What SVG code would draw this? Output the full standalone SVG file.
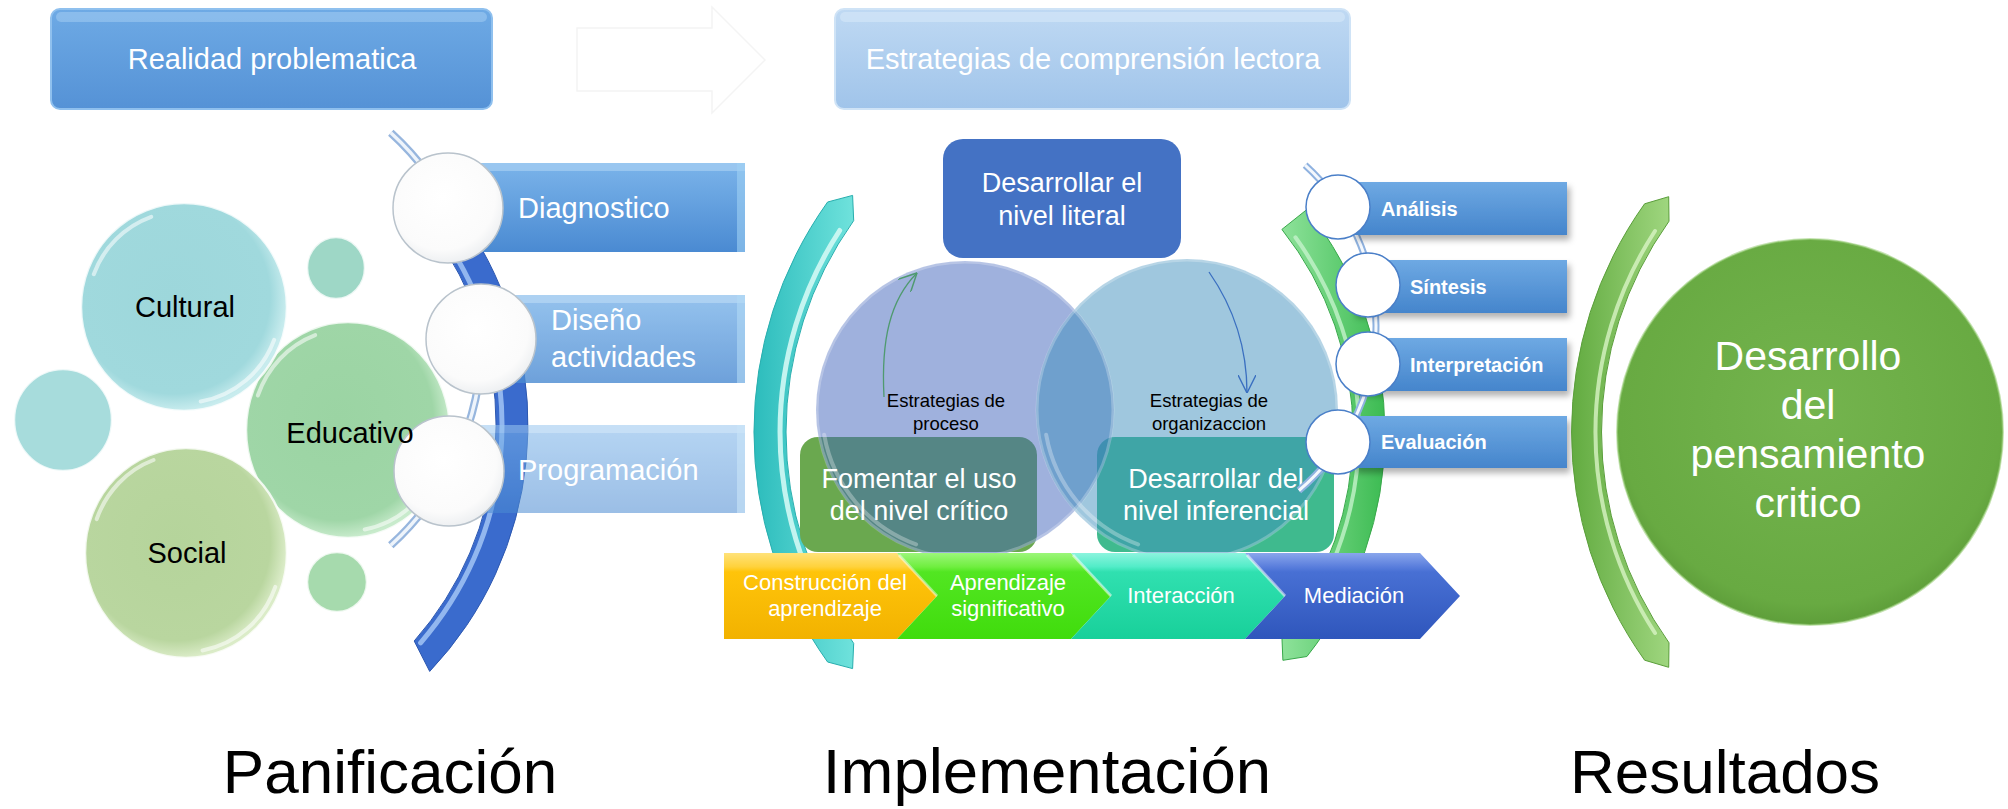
<svg xmlns="http://www.w3.org/2000/svg" width="2008" height="809" viewBox="0 0 2008 809">
<defs>
<style>
.t{font-family:"Liberation Sans",Arial,sans-serif}
.wt{fill:#fff}
.bk{fill:#000}
.c{text-anchor:middle}
.b{font-weight:bold}
.wcirc{fill:url(#gWhite);stroke:#b9c3cc;stroke-width:1.5}
.lcirc{fill:#fff;stroke:#4a7fc8;stroke-width:1.5}
.bub{stroke:#fff;stroke-opacity:.8;stroke-width:2.5}
.hl{fill:none;stroke-linecap:round}
.gl{fill:none;stroke:#fff;stroke-linecap:round;stroke-width:4;opacity:.55}
</style>
<linearGradient id="gTop" x1="0" y1="0" x2="0" y2="1"><stop offset="0" stop-color="#6eaae5"/><stop offset="1" stop-color="#5592d6"/></linearGradient>
<linearGradient id="gLight" x1="0" y1="0" x2="0" y2="1"><stop offset="0" stop-color="#bfd9f3"/><stop offset="1" stop-color="#a0c4ea"/></linearGradient>
<linearGradient id="gPlan" x1="0" y1="0" x2="0" y2="1"><stop offset="0" stop-color="#7bb4ea"/><stop offset="1" stop-color="#4a8ad2"/></linearGradient>
<linearGradient id="gList" x1="0" y1="0" x2="0" y2="1"><stop offset="0" stop-color="#6ea9e3"/><stop offset="1" stop-color="#4585cc"/></linearGradient>
<linearGradient id="gTeal" x1="0" y1="0" x2="1" y2="0"><stop offset="0" stop-color="#2cbcbc"/><stop offset="1" stop-color="#6fe2dc"/></linearGradient>
<linearGradient id="gGreen" x1="0" y1="0" x2="1" y2="0"><stop offset="0" stop-color="#8ee29a"/><stop offset="1" stop-color="#3cbb52"/></linearGradient>
<linearGradient id="gRes" x1="0" y1="0" x2="1" y2="0"><stop offset="0" stop-color="#62ab40"/><stop offset="1" stop-color="#9fd67f"/></linearGradient>
<linearGradient id="gYel" x1="0" y1="0" x2="0" y2="1"><stop offset="0" stop-color="#ffe27a"/><stop offset=".16" stop-color="#ffd23c"/><stop offset=".22" stop-color="#ffc40a"/><stop offset="1" stop-color="#f2b200"/></linearGradient>
<linearGradient id="gGrn" x1="0" y1="0" x2="0" y2="1"><stop offset="0" stop-color="#9cf67a"/><stop offset=".16" stop-color="#70ee40"/><stop offset=".22" stop-color="#52e622"/><stop offset="1" stop-color="#40dc0c"/></linearGradient>
<linearGradient id="gTql" x1="0" y1="0" x2="0" y2="1"><stop offset="0" stop-color="#8cf4de"/><stop offset=".16" stop-color="#52ecc8"/><stop offset=".22" stop-color="#30e0b0"/><stop offset="1" stop-color="#18d09a"/></linearGradient>
<linearGradient id="gBlu" x1="0" y1="0" x2="0" y2="1"><stop offset="0" stop-color="#8aa6ec"/><stop offset=".16" stop-color="#5a7edc"/><stop offset=".22" stop-color="#4870d4"/><stop offset="1" stop-color="#2f56bc"/></linearGradient>
<radialGradient id="gWhite" cx=".45" cy=".4" r=".6"><stop offset="0" stop-color="#ffffff"/><stop offset=".8" stop-color="#fbfbfb"/><stop offset="1" stop-color="#eef0f2"/></radialGradient>
<radialGradient id="gBig" cx=".5" cy=".45" r=".55"><stop offset="0" stop-color="#74b44e"/><stop offset=".9" stop-color="#68aa42"/><stop offset="1" stop-color="#5e9e3a"/></radialGradient>
<radialGradient id="gCul" cx=".45" cy=".45" r=".55"><stop offset="0" stop-color="#9dd7db"/><stop offset=".85" stop-color="#a0d9dd"/><stop offset="1" stop-color="#c8ecee"/></radialGradient>
<radialGradient id="gEdu" cx=".45" cy=".45" r=".55"><stop offset="0" stop-color="#9bd4a3"/><stop offset=".85" stop-color="#9fd6a7"/><stop offset="1" stop-color="#c8ebcc"/></radialGradient>
<radialGradient id="gSoc" cx=".45" cy=".45" r=".55"><stop offset="0" stop-color="#b5d49b"/><stop offset=".85" stop-color="#b9d69f"/><stop offset="1" stop-color="#dbecc8"/></radialGradient>
<filter id="sh" x="-10%" y="-20%" width="130%" height="160%"><feDropShadow dx="3" dy="5" stdDeviation="3" flood-color="#000" flood-opacity=".3"/></filter>
<marker id="arG" viewBox="0 0 10 10" refX="10" refY="5" markerWidth="18" markerHeight="18" markerUnits="userSpaceOnUse" orient="auto"><path d="M0,0 L10,5 L0,10" fill="none" stroke="#4f9a6f" stroke-width=".8"/></marker>
<marker id="arB" viewBox="0 0 10 10" refX="10" refY="5" markerWidth="18" markerHeight="18" markerUnits="userSpaceOnUse" orient="auto"><path d="M0,0 L10,5 L0,10" fill="none" stroke="#3a6fc0" stroke-width=".8"/></marker>
</defs>
<rect x="0" y="0" width="2008" height="809" fill="#fff"/>

<!-- faint arrow -->
<g id="top-arrow">
<polygon points="577,28 712,28 712,7 765,60 712,113 712,91 577,91" fill="#fff" stroke="#f4f4f4" stroke-width="1.5"/>
</g>

<g id="node-realidad">
<rect x="51" y="9" width="441" height="100" rx="9" fill="url(#gTop)" stroke="#8fc0ee" stroke-width="2"/>
<rect x="56" y="12" width="431" height="10" rx="5" fill="#a8d0f4" opacity=".5"/>
<text class="t wt c" x="272" y="69" font-size="29">Realidad problematica</text>
</g>

<g id="node-estrategias">
<rect x="835" y="9" width="515" height="100" rx="9" fill="url(#gLight)" stroke="#cfe3f6" stroke-width="2"/>
<rect x="840" y="12" width="505" height="10" rx="5" fill="#d6e8f8" opacity=".6"/>
<text class="t wt c" x="1093" y="69" font-size="29">Estrategias de comprensión lectora</text>
</g>

<!-- bubbles -->
<g id="node-educativo">
<ellipse class="bub" cx="348" cy="430" rx="102" ry="108" fill="url(#gEdu)"/>
<path class="gl" d="M438.2,464.5 A96 101 0 0 1 364.7,529.5"/>
<path class="gl" d="M257.8,395.5 A96 101 0 0 1 315.2,335.1"/>
</g>
<g id="node-cultural">
<ellipse class="bub" cx="184" cy="307" rx="103" ry="104" fill="url(#gCul)"/>
<path class="gl" d="M274.2,339.8 A96 96 0 0 1 200.7,401.5"/>
<path class="gl" d="M93.8,274.2 A96 96 0 0 1 151.2,216.8"/>
<text class="t bk c" x="185" y="317" font-size="29">Cultural</text>
</g>
<g id="node-social">
<ellipse class="bub" cx="186" cy="553" rx="101" ry="105" fill="url(#gSoc)"/>
<path class="gl" d="M275.3,586.9 A95 99 0 0 1 202.5,650.5"/>
<path class="gl" d="M96.7,519.1 A95 99 0 0 1 153.5,460"/>
<text class="t bk c" x="187" y="563" font-size="29">Social</text>
</g>
<g id="bubbles-small">
<ellipse class="bub" cx="336" cy="268" rx="29" ry="31" fill="#9ed7c6"/>
<ellipse class="bub" cx="63" cy="420" rx="49" ry="51" fill="#a7dcdc"/>
<ellipse class="bub" cx="337" cy="582" rx="30" ry="30" fill="#a6daad"/>
</g>

<!-- planning arcs -->
<g id="planning-arcs">
<path d="M390.8,132.7 A279 279 0 0 1 390.8,545.3" fill="none" stroke="#97b6de" stroke-width="8"/>
<path d="M390.8,132.7 A279 279 0 0 1 390.8,545.3" fill="none" stroke="#eef4fb" stroke-width="3.5"/>
<path d="M473.6,235.3 A358 358 0 0 1 429.7,671.4 L414.2,641 A326 326 0 0 0 446.5,252.2 Z" fill="#3a6bcd" stroke="#2d58b0" stroke-width="1"/>
<path class="hl" d="M457.5,259 A332 332 0 0 1 420.6,642.8" stroke="#a2c4f4" stroke-width="5" opacity=".85"/>
</g>

<g id="node-diagnostico">
<rect x="480" y="163" width="265" height="89" fill="url(#gPlan)"/>
<rect x="480" y="163" width="265" height="8" fill="#a6cff2" opacity=".7"/>
<rect x="737" y="163" width="8" height="89" fill="#9ed0f4" opacity=".6"/>
<text class="t wt" x="518" y="218" font-size="29">Diagnostico</text>
</g>
<g id="node-diseno">
<g opacity=".8">
<rect x="480" y="295" width="265" height="88" fill="url(#gPlan)"/>
<rect x="480" y="295" width="265" height="8" fill="#a6cff2" opacity=".7"/>
<rect x="737" y="295" width="8" height="88" fill="#9ed0f4" opacity=".6"/>
</g>
<text class="t wt" x="551" y="330" font-size="29">Diseño</text>
<text class="t wt" x="551" y="367" font-size="29">actividades</text>
</g>
<g id="node-programacion">
<g opacity=".55">
<rect x="480" y="425" width="265" height="88" fill="url(#gPlan)"/>
<rect x="480" y="425" width="265" height="8" fill="#a6cff2" opacity=".7"/>
<rect x="737" y="425" width="8" height="88" fill="#9ed0f4" opacity=".6"/>
</g>
<text class="t wt" x="518" y="480" font-size="29">Programación</text>
</g>
<g id="planning-circles">
<ellipse class="wcirc" cx="448" cy="208" rx="55" ry="55"/>
<ellipse class="wcirc" cx="481" cy="339" rx="55" ry="55"/>
<ellipse class="wcirc" cx="449" cy="471" rx="55" ry="55"/>
</g>
<g id="node-educativo-label">
<text class="t bk c" x="350" y="443" font-size="29">Educativo</text>
</g>

<!-- implementation arcs -->
<g id="impl-arcs">
<path d="M827.6,202 A396 396 0 0 0 827.6,662 L852.6,668.6 L853.7,643.4 A364 364 0 0 1 853.7,220.6 L852.6,195.4 Z" fill="url(#gTeal)" stroke="#28aeae" stroke-width="1"/>
<path class="hl" d="M839.7,230.5 A370 370 0 0 0 839.7,633.5" stroke="#d2f8f4" stroke-width="5" opacity=".9"/>
<path d="M1306.9,209.5 A359 359 0 0 1 1306.9,656.5 L1282.9,660.3 L1281.9,636.6 A327 327 0 0 0 1281.9,229.4 Z" fill="url(#gGreen)" stroke="#38a84a" stroke-width="1"/>
<path class="hl" d="M1295.4,237.3 A333 333 0 0 1 1295.4,628.7" stroke="#c4f2ca" stroke-width="4" opacity=".8"/>
</g>

<g id="node-literal">
<rect x="943" y="139" width="238" height="119" rx="20" fill="#4472c4"/>
<text class="t wt c" x="1062" y="192" font-size="27">Desarrollar el</text>
<text class="t wt c" x="1062" y="225" font-size="27">nivel literal</text>
</g>

<g id="node-critico-box">
<rect x="800" y="437" width="237" height="115" rx="18" fill="#6aa84f"/>
</g>
<g id="node-inferencial-box">
<rect x="1097" y="437" width="237" height="115" rx="18" fill="#3fba8e"/>
</g>

<g id="venn">
<circle cx="965" cy="410" r="149" fill="#3f63bb" opacity=".5"/>
<circle cx="1187" cy="410" r="151" fill="#3f8fbd" opacity=".5"/>
<circle cx="965" cy="410" r="148" fill="none" stroke="#fff" stroke-opacity=".25" stroke-width="3"/>
<circle cx="1187" cy="410" r="150" fill="none" stroke="#fff" stroke-opacity=".25" stroke-width="3"/>
<path class="hl" d="M824.2,434.8 A143 143 0 0 0 916.1,544.4" stroke="#fff" stroke-width="4" opacity=".3"/>
<path class="hl" d="M1046.2,434.8 A143 143 0 0 0 1138.1,544.4" stroke="#fff" stroke-width="4" opacity=".3"/>
</g>

<g id="connectors">
<path d="M884,397 C881,340 890,300 917,273" fill="none" stroke="#4f9a6f" stroke-width="1.3" marker-end="url(#arG)"/>
<path d="M1209,272 C1232,305 1247,345 1247,393" fill="none" stroke="#3a6fc0" stroke-width="1.3" marker-end="url(#arB)"/>
</g>

<g id="node-proceso">
<text class="t bk c" x="946" y="407" font-size="18.5">Estrategias de</text>
<text class="t bk c" x="946" y="430" font-size="18.5">proceso</text>
</g>
<g id="node-organizacion">
<text class="t bk c" x="1209" y="407" font-size="18.5">Estrategias de</text>
<text class="t bk c" x="1209" y="430" font-size="18.5">organizaccion</text>
</g>
<g id="node-critico-label">
<text class="t wt c" x="919" y="488" font-size="27">Fomentar el uso</text>
<text class="t wt c" x="919" y="520" font-size="27">del nivel crítico</text>
</g>
<g id="node-inferencial-label">
<text class="t wt c" x="1216" y="488" font-size="27">Desarrollar del</text>
<text class="t wt c" x="1216" y="520" font-size="27">nivel inferencial</text>
</g>

<!-- chevrons -->
<g id="node-construccion">
<polygon points="724,553 897,553 937,596 897,639 724,639" fill="url(#gYel)"/>
<text class="t wt c" x="825" y="590" font-size="22">Construcción del</text>
<text class="t wt c" x="825" y="616" font-size="22">aprendizaje</text>
</g>
<g id="node-significativo">
<polygon points="897,553 1071,553 1111,596 1071,639 897,639 937,596" fill="url(#gGrn)"/>
<line x1="899" y1="555" x2="937" y2="596" stroke="#fff" stroke-width="3" opacity=".45"/>
<text class="t wt c" x="1008" y="590" font-size="22">Aprendizaje</text>
<text class="t wt c" x="1008" y="616" font-size="22">significativo</text>
</g>
<g id="node-interaccion">
<polygon points="1071,553 1245,553 1285,596 1245,639 1071,639 1111,596" fill="url(#gTql)"/>
<line x1="1073" y1="555" x2="1111" y2="596" stroke="#fff" stroke-width="3" opacity=".5"/>
<text class="t wt c" x="1181" y="603" font-size="22">Interacción</text>
</g>
<g id="node-mediacion">
<polygon points="1245,553 1420,553 1460,596 1420,639 1245,639 1285,596" fill="url(#gBlu)"/>
<line x1="1247" y1="555" x2="1285" y2="596" stroke="#fff" stroke-width="3" opacity=".5"/>
<text class="t wt c" x="1354" y="603" font-size="22">Mediación</text>
</g>

<!-- right list -->
<g id="list-line">
<path d="M1305.1,165.1 A216 216 0 0 1 1298.9,490.5" fill="none" stroke="#8fb2e0" stroke-width="7"/>
<path d="M1305.1,165.1 A216 216 0 0 1 1298.9,490.5" fill="none" stroke="#f4f8fd" stroke-width="3"/>
</g>
<g id="node-analisis">
<rect x="1353" y="182" width="214" height="53" fill="url(#gList)" filter="url(#sh)"/>
<circle class="lcirc" cx="1338" cy="207" r="32"/>
<text class="t wt b" x="1381" y="216" font-size="20">Análisis</text>
</g>
<g id="node-sintesis">
<rect x="1353" y="260" width="214" height="53" fill="url(#gList)" filter="url(#sh)"/>
<circle class="lcirc" cx="1368" cy="285" r="32"/>
<text class="t wt b" x="1410" y="294" font-size="20">Síntesis</text>
</g>
<g id="node-interpretacion">
<rect x="1353" y="338" width="214" height="53" fill="url(#gList)" filter="url(#sh)"/>
<circle class="lcirc" cx="1368" cy="364" r="32"/>
<text class="t wt b" x="1410" y="372" font-size="20">Interpretación</text>
</g>
<g id="node-evaluacion">
<rect x="1353" y="416" width="214" height="52" fill="url(#gList)" filter="url(#sh)"/>
<circle class="lcirc" cx="1338" cy="442" r="32"/>
<text class="t wt b" x="1381" y="449" font-size="20">Evaluación</text>
</g>

<!-- results -->
<g id="results-arc">
<path d="M1644.6,203.8 A393 393 0 0 0 1644.6,660.2 L1668.7,667.3 L1669,642.8 A363 363 0 0 1 1669,221.2 L1668.7,196.7 Z" fill="url(#gRes)" stroke="#5a9e3a" stroke-width="1"/>
<path class="hl" d="M1655,231 A369 369 0 0 0 1655,633" stroke="#d8f4c4" stroke-width="4" opacity=".8"/>
</g>
<g id="node-resultado">
<circle cx="1810" cy="432" r="193" fill="url(#gBig)" stroke="#9fd07e" stroke-width="2" stroke-opacity=".6"/>
<text class="t wt c" x="1808" y="370" font-size="41">Desarrollo</text>
<text class="t wt c" x="1808" y="419" font-size="41">del</text>
<text class="t wt c" x="1808" y="468" font-size="41">pensamiento</text>
<text class="t wt c" x="1808" y="517" font-size="41">critico</text>
</g>

<g id="titles">
<text class="t bk c" x="390" y="793" font-size="62">Panificación</text>
<text class="t bk c" x="1047" y="793" font-size="63.5">Implementación</text>
<text class="t bk c" x="1725" y="793" font-size="62">Resultados</text>
</g>
</svg>
